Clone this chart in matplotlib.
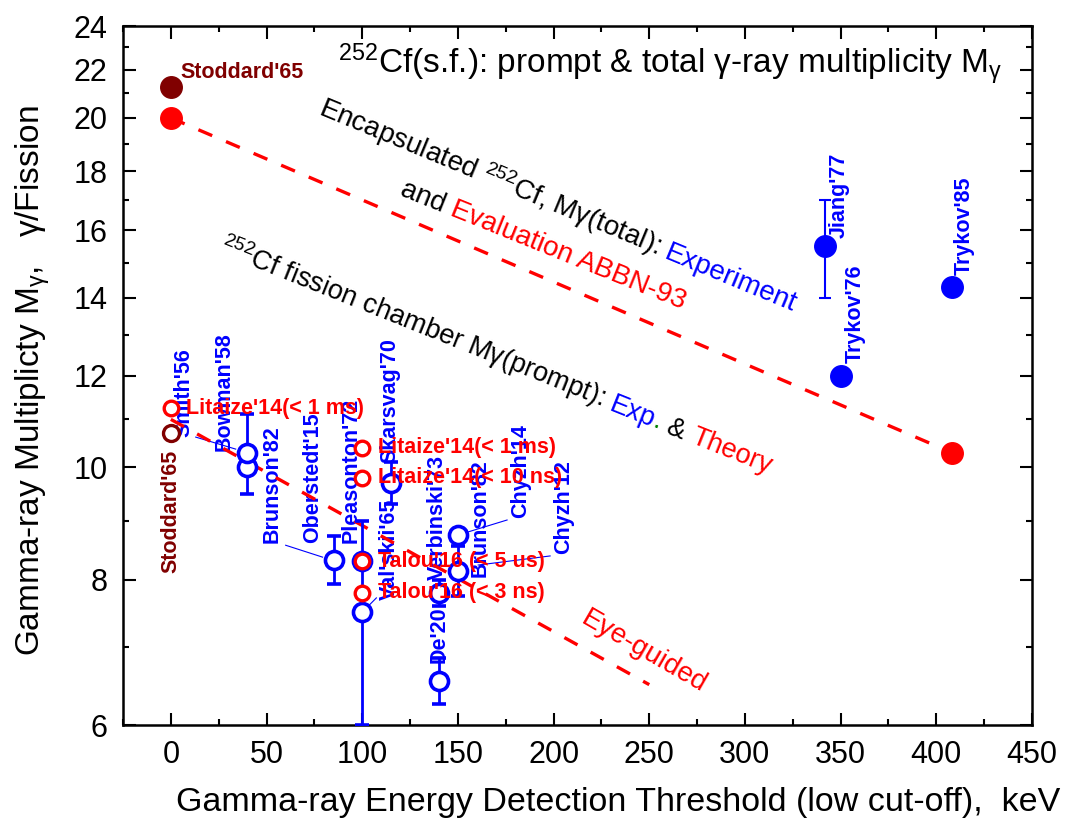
import numpy as np
import matplotlib
matplotlib.use("Agg")
import matplotlib.pyplot as plt
from matplotlib.ticker import FixedLocator, MultipleLocator, NullFormatter
from matplotlib.transforms import IdentityTransform

plt.rcParams["font.family"] = ["Liberation Sans", "DejaVu Sans"]
plt.rcParams["mathtext.fontset"] = "custom"
plt.rcParams["mathtext.rm"] = "Liberation Sans"
plt.rcParams["mathtext.it"] = "Liberation Sans:italic"
plt.rcParams["mathtext.bf"] = "Liberation Sans:bold"

BLUE, RED, DRED, GREEN = "#0000ff", "#ff0000", "#800000", "#008000"

# total multiplicity, encapsulated source (filled symbols)
tot_names = ["Stoddard'65", "Jiang'77", "Trykov'76", "Trykov'85"]
tot_x = [0, 342, 350, 408]
tot_y = [21.25, 15.5, 12.0, 14.3]
tot_err = [0, 1.5, 0, 0]

# ABBN-93 evaluation
abbn_x = [0, 408]
abbn_y = [20.0, 10.3]

# prompt multiplicity, fission chamber experiments (open blue)
exp_names = ["Smith'56", "Bowman'58", "Oberstedt'15", "Pleasonton'72", "Val'skii'65",
             "Skarsvag'70", "Verbinski'73", "De'20", "Chyzh'12", "Chyzh'14"]
exp_x = [40, 40, 85, 100, 100, 115, 140, 140, 150, 150]
exp_y = [10.0, 10.3, 8.33, 8.3, 7.5, 9.7, 7.8, 6.55, 8.15, 8.75]
exp_err = [0, 0.82, 0.4, 0, 1.5, 0.4, 0.2, 0.3, 0.4, 0]

# Stoddard'65 prompt value
stod_x = [0]
stod_y = [10.7]

# theory (open red)
th_names = ["Litaize'14(< 1 ms)", "Litaize'14(< 1 ms)", "Litaize'14(< 10 ns)",
            "Talou'16 (< 5 us)", "Talou'16 (< 3 ns)"]
th_x = [0, 100, 100, 100, 100]
th_y = [11.25, 10.4, 9.8, 8.3, 7.8]

# eye guide through the prompt data
eye_x = [0, 250]
eye_y = [11.0, 6.5]

y_major = [6, 8, 10, 12, 14, 16, 18, 20, 22, 24]
y_minor = [7, 9, 11, 13, 15, 17, 19, 21, 23]

W, H = 1065, 821
fig = plt.figure(figsize=(W / 100, H / 100), dpi=100)
ax = fig.add_axes([123 / W, 96 / H, 909 / W, 699 / H])
ax.set_yscale("log")
ax.set_xlim(-25, 450)
ax.set_ylim(6, 24)

ax.xaxis.set_major_locator(MultipleLocator(50))
ax.xaxis.set_minor_locator(MultipleLocator(25))
ax.yaxis.set_major_locator(FixedLocator(y_major))
ax.yaxis.set_minor_locator(FixedLocator(y_minor))
ax.yaxis.set_major_formatter(plt.FixedFormatter([str(v) for v in y_major]))
ax.yaxis.set_minor_formatter(NullFormatter())
ax.tick_params(which="both", direction="in", top=True, right=True, width=1.5,
               labelsize=22)
ax.tick_params(which="major", length=9, pad=11)
ax.tick_params(which="minor", length=4.5)
for sp in ax.spines.values():
    sp.set_linewidth(1.8)

# dashed guides
ax.plot(abbn_x, abbn_y, color=RED, lw=2.4, dashes=(4.5, 4.5), zorder=2)
ax.plot(eye_x, eye_y, color=RED, lw=2.4, dashes=(4.5, 4.5), zorder=2.6)

# total multiplicity
ax.plot(abbn_x, abbn_y, "o", ms=15.5, color=RED, ls="none", zorder=4)
for i, name in enumerate(tot_names):
    col = DRED if name.startswith("Stoddard") else BLUE
    ax.errorbar(tot_x[i], tot_y[i], yerr=tot_err[i] or None, fmt="o", ms=15.5,
                color=col, elinewidth=1.5, capsize=4, capthick=1.5, zorder=4)

# prompt experiments
for i in range(len(exp_names)):
    ax.errorbar(exp_x[i], exp_y[i], yerr=exp_err[i], fmt="o", ms=13, mew=2.6,
                mfc="white", mec=BLUE, color=BLUE, elinewidth=2, capsize=4.7,
                capthick=2, zorder=3 + 0.01 * i)
ax.plot(stod_x, stod_y, "o", ms=11.5, mew=2.4, mfc="white", mec=DRED, zorder=4)
ax.plot(th_x, th_y, "o", ms=10.5, mew=2.4, mfc="white", mec=RED, zorder=4.5)

# leader lines from labels to points
leaders = [((13.0, 33.9), (10.62, 10.37)),
           ((60.0, 79.3), (8.57, 8.37)),
           ((103.3, 107.4), (7.60, 7.72)),
           ((155.4, 175.7), (8.80, 9.01)),
           ((160.6, 198.2), (8.24, 8.39))]
for lx, ly in leaders:
    ax.plot(lx, ly, color=BLUE, lw=0.8, zorder=2.5)

# vertical point labels (x, bottom y)
exp_labels = [("Smith'56", 7, 10.62), ("Bowman'58", 28, 10.33),
              ("Brunson'82", 53, 8.61), ("Oberstedt'15", 74, 8.61),
              ("Pleasonton'72", 94, 8.61), ("Val'skii'65", 114, 7.69),
              ("Skarsvag'70", 114.7, 10.08), ("Verbinski'73", 139.5, 8.0),
              ("De'20", 140, 6.78), ("Brunson'82", 161.7, 8.05),
              ("Chyzh'14", 183, 9.04), ("Chyzh'12", 205, 8.43),
              ("Jiang'77", 349.4, 15.75), ("Trykov'76", 357.7, 12.29),
              ("Trykov'85", 414.6, 14.65)]
for s, lx, ly in exp_labels:
    ax.text(lx, ly, s, rotation=90, ha="center", va="bottom", color=BLUE,
            fontsize=15.5, fontweight="bold", zorder=2.4)
ax.text(0, 8.11, "Stoddard'65", rotation=90, ha="center", va="bottom", color=DRED,
        fontsize=15.5, fontweight="bold", zorder=2.4)
ax.text(5.2, 21.9, "Stoddard'65", ha="left", va="center", color=DRED,
        fontsize=15.5, fontweight="bold", zorder=5)
for s, px, py in zip(th_names, th_x, th_y):
    ax.text(px + 8, py, s, ha="left", va="center", color=RED, fontsize=15.5,
            fontweight="bold", zorder=5)


def text_width(s, size, r):
    t = ax.text(0, 0, s, fontsize=size)
    w = t.get_window_extent(r).width
    t.remove()
    return w


def run_text(x0, y0, parts, angle, size):
    # lay coloured pieces one after another along a rotated baseline
    r = fig.canvas.get_renderer()
    sx, sy = ax.transData.transform((x0, y0))
    c, s = np.cos(np.radians(angle)), np.sin(np.radians(angle))
    bar = text_width("|", size, r)
    done = ""
    for txt, col in parts:
        w = text_width(done + "|", size, r) - bar if done else 0.0
        ax.text(sx + w * c, sy + w * s, txt, transform=IdentityTransform(),
                rotation=angle, rotation_mode="anchor", ha="left", va="baseline",
                color=col, fontsize=size, zorder=5)
        done += txt


ax.text(87.1, 21.82, r"$^{252}$Cf(s.f.): prompt & total γ-ray multiplicity M$_\mathrm{\gamma}$",
        ha="left", va="baseline", fontsize=24, zorder=5)
run_text(76.2, 20.13, [(r"Encapsulated $^{252}$Cf, Mγ(total): ", "black"),
                       ("Experiment", BLUE)], -22.5, 20)
run_text(119.4, 17.17, [("and ", "black"), ("Evaluation ABBN-93", RED)], -22, 20)
run_text(24.5, 15.27, [(r"$^{252}$Cf fission chamber Mγ(prompt): ", "black"),
                       ("Exp", BLUE), (".", GREEN), (" & ", "black"),
                       ("Theory", RED)], -21.8, 19.6)
ax.text(213.8, 7.35, "Eye-guided", rotation=-30, rotation_mode="anchor", ha="left",
        va="baseline", color=RED, fontsize=20, zorder=5)

ax.set_xlabel("Gamma-ray Energy Detection Threshold (low cut-off),  keV", fontsize=24.5,
              ha="right")
ax.xaxis.set_label_coords(1.031, -0.089)
ax.set_ylabel(r"Gamma-ray Multiplicty M$_\mathrm{\gamma}$,   γ/Fission", fontsize=24)
ax.yaxis.set_label_coords(-0.078, 0.492)

fig.savefig("out.png", dpi=100)
